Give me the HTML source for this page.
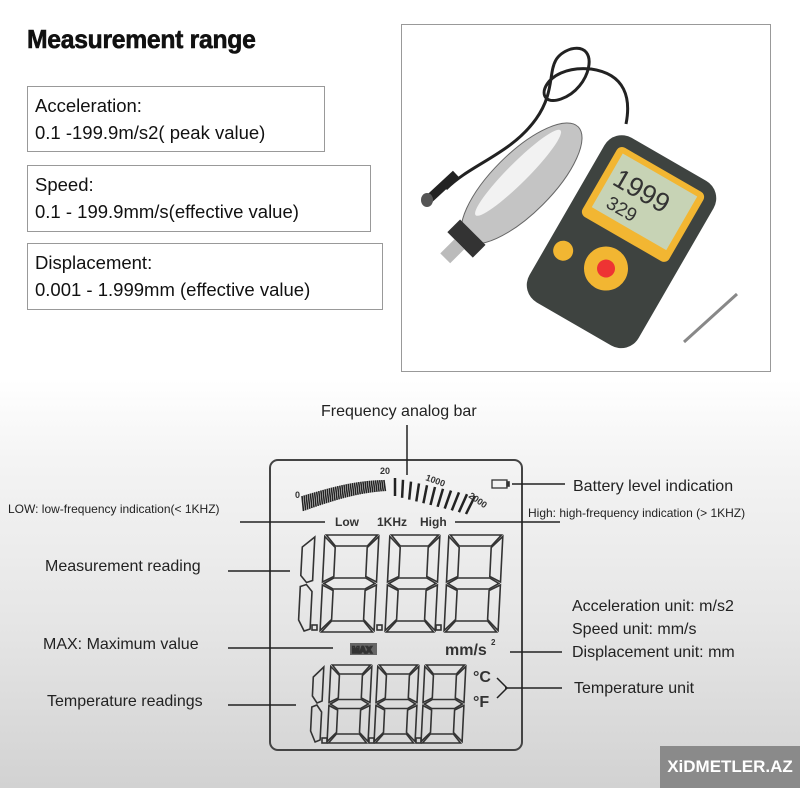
<!DOCTYPE html><html><head><meta charset="utf-8"><style>
html,body{margin:0;padding:0}
body{width:800px;height:788px;position:relative;overflow:hidden;font-family:"Liberation Sans",sans-serif;background:linear-gradient(#fff 0,#fff 380px,#f4f4f4 460px,#e6e6e6 620px,#d2d2d2 788px)}
.h{position:absolute;left:27px;top:24px;font-size:26px;font-weight:900;color:#111;letter-spacing:-0.3px;transform:scaleX(0.95);transform-origin:left;-webkit-text-stroke:0.6px #111}
.b{position:absolute;border:1px solid #999;background:#fff;font-size:18.5px;color:#111;line-height:27px;padding:5px 7px;box-sizing:border-box}
.t{position:absolute;color:#222;font-size:16px;white-space:nowrap}
.s{font-size:12px}
.badge{position:absolute;left:660px;top:746px;width:140px;height:42px;background:#8a8a8a;color:#fff;font-weight:bold;font-size:17px;line-height:42px;text-align:center}
</style></head><body>
<div class="h">Measurement range</div>
<div class="b" style="left:27px;top:86px;width:298px;height:66px">Acceleration:<br>0.1 -199.9m/s2( peak value)</div>
<div class="b" style="left:27px;top:165px;width:344px;height:67px">Speed:<br>0.1 - 199.9mm/s(effective value)</div>
<div class="b" style="left:27px;top:243px;width:356px;height:67px">Displacement:<br>0.001 - 1.999mm (effective value)</div>
<svg style="position:absolute;left:401px;top:24px" width="371" height="349">
<rect x="0.5" y="0.5" width="369" height="347" fill="#fff" stroke="#999"/>
<path d="M45 165 C70 140 110 130 135 95 C160 60 140 35 170 25 C200 18 190 65 160 75 C130 85 140 40 190 45 C225 50 230 75 225 100" stroke="#222" stroke-width="3" fill="none"/>
<path d="M28 175 L55 150" stroke="#222" stroke-width="9"/>
<ellipse cx="26" cy="176" rx="6" ry="7" fill="#555"/>
<g transform="rotate(-45 110 170)"><ellipse cx="125" cy="170" rx="80" ry="30" fill="#c4c4c4" stroke="#666"/><ellipse cx="130" cy="160" rx="60" ry="10" fill="#f2f2f2"/><rect x="38" y="152" width="18" height="36" fill="#333"/><rect x="18" y="162" width="20" height="14" fill="#bbb"/></g>
<g transform="translate(0,-8) rotate(30 218 230)"><rect x="155" y="130" width="126" height="190" rx="20" fill="#3e4340"/><rect x="168" y="142" width="100" height="80" rx="6" fill="#f2b632"/><rect x="175" y="148" width="86" height="62" fill="#c7d3b5"/><text x="180" y="180" font-size="27" fill="#333">1999</text><text x="186" y="203" font-size="19" fill="#333">329</text><circle cx="218" cy="256" r="22" fill="#f2b632"/><circle cx="218" cy="256" r="9" fill="#e33"/><circle cx="172" cy="262" r="10" fill="#f2b632"/></g>
<path d="M283 318 L336 270" stroke="#888" stroke-width="3"/>
</svg>
<svg id="d" style="position:absolute;left:0;top:0" width="800" height="788"><g id="g" fill="none" stroke="#333" stroke-width="1.6"></g></svg>
<div class="t" style="left:321px;top:403px">Frequency analog bar</div>
<div class="t" style="left:573px;top:478px">Battery level indication</div>
<div class="t s" style="left:8px;top:502px">LOW: low-frequency indication(&lt; 1KHZ)</div>
<div class="t s" style="left:528px;top:506px">High: high-frequency indication (&gt; 1KHZ)</div>
<div class="t" style="left:45px;top:558px">Measurement reading</div>
<div class="t" style="left:43px;top:636px">MAX: Maximum value</div>
<div class="t" style="left:47px;top:693px">Temperature readings</div>
<div class="t" style="left:572px;top:598px">Acceleration unit: m/s2</div>
<div class="t" style="left:572px;top:621px">Speed unit: mm/s</div>
<div class="t" style="left:572px;top:644px">Displacement unit: mm</div>
<div class="t" style="left:574px;top:680px">Temperature unit</div>
<div class="badge">XiDMETLER.AZ</div>
<script>
var g=document.getElementById('g'),h='';
function L(a,b,c,d,w){h+='<line x1="'+a+'" y1="'+b+'" x2="'+c+'" y2="'+d+'" stroke="#222" stroke-width="'+(w||1.5)+'"/>';}
function T(x,y,s,t,ex){h+='<text x="'+x+'" y="'+y+'" font-size="'+s+'" fill="#333" stroke="none" font-weight="bold" '+(ex||'')+'>'+t+'</text>';}
h+='<rect x="270" y="460" width="252" height="290" rx="8" stroke="#444" stroke-width="2"/>';
L(407,425,407,475);L(512,484,565,484);L(240,522,325,522);L(455,522,560,522);
L(228,571,290,571);L(228,648,333,648);L(228,705,296,705);L(510,652,562,652);L(505,688,562,688);
h+='<polyline points="497,678 507,688 497,698" stroke="#222" stroke-width="1.5"/>';
for(var i=0;i<40;i++){var x=302+i*2.1,y=496-16*Math.sin(i/40*Math.PI/2);L(x,y,x+1.5,y+15-i*0.1,1.6);}
for(var i=0;i<11;i++){var x=395+i*8,y=478+i*1.8,sl=i*0.9;L(x,y,x-sl,y+18,2.5);}
T(295,498,9,'0');T(380,474,9,'20');T(425,480,9,'1000','transform="rotate(20 425 480)"');T(468,497,9,'2000','transform="rotate(35 468 497)"');
h+='<rect x="492" y="480" width="15" height="8" stroke-width="1.3"/><rect x="507" y="482" width="2" height="4" fill="#333"/>';
T(335,526,12,'Low');T(377,526,12,'1KHz');T(420,526,12,'High');
h+='<rect x="350" y="643" width="27" height="12" fill="#666" stroke="none"/><text x="352" y="653" font-size="9" fill="#ddd" font-weight="bold">MAX</text>';
T(445,655,16,'mm/s','fill="#777"');T(491,645,8,'2');
T(473,682,16,'°C');T(473,707,16,'°F');
function dig(x,y,w,hh,t){var m=y+hh/2,g2=1.5;
 function P(pts){h+='<polygon points="'+pts.map(p=>(p[0]+(y+hh-p[1])*0.05).toFixed(1)+','+p[1]).join(' ')+'"/>';}
 P([[x+g2,y],[x+w-g2,y],[x+w-t,y+t],[x+t,y+t]]);
 P([[x+g2,m],[x+t,m-t/2],[x+w-t,m-t/2],[x+w-g2,m],[x+w-t,m+t/2],[x+t,m+t/2]]);
 P([[x+g2,y+hh],[x+w-g2,y+hh],[x+w-t,y+hh-t],[x+t,y+hh-t]]);
 P([[x,y+g2],[x+t,y+t+g2],[x+t,m-t/2-g2],[x,m-g2]]);P([[x+w,y+g2],[x+w-t,y+t+g2],[x+w-t,m-t/2-g2],[x+w,m-g2]]);
 P([[x,m+g2],[x+t,m+t/2+g2],[x+t,y+hh-t-g2],[x,y+hh-g2]]);P([[x+w,m+g2],[x+w-t,m+t/2+g2],[x+w-t,y+hh-t-g2],[x+w,y+hh-g2]]);
}
function one(x,y,w,hh){var m=y+hh/2;function P(pts){h+='<polygon points="'+pts.map(p=>(p[0]+(y+hh-p[1])*0.05).toFixed(1)+','+p[1]).join(' ')+'"/>';}
 P([[x+w,y+2],[x+w,m-3],[x+w/2,m-1],[x,m-8],[x,y+12]]);P([[x,m+3],[x+w/2,m+1],[x+w,m+8],[x+w,y+hh-3],[x+w/2,y+hh-1],[x,y+hh-12]]);}
one(298,535,12,97);
dig(320,535,54,97,11);dig(385,535,50,97,11);dig(444,535,54,97,11);
one(310,665,10,78);dig(327,665,41,78,9);dig(374,665,41,78,9);dig(421,665,41,78,9);
[[312,625],[377,625],[436,625],[322,738],[369,738],[416,738]].forEach(p=>h+='<rect x="'+p[0]+'" y="'+p[1]+'" width="5" height="5"/>');
g.innerHTML=h;
</script>
</body></html>
